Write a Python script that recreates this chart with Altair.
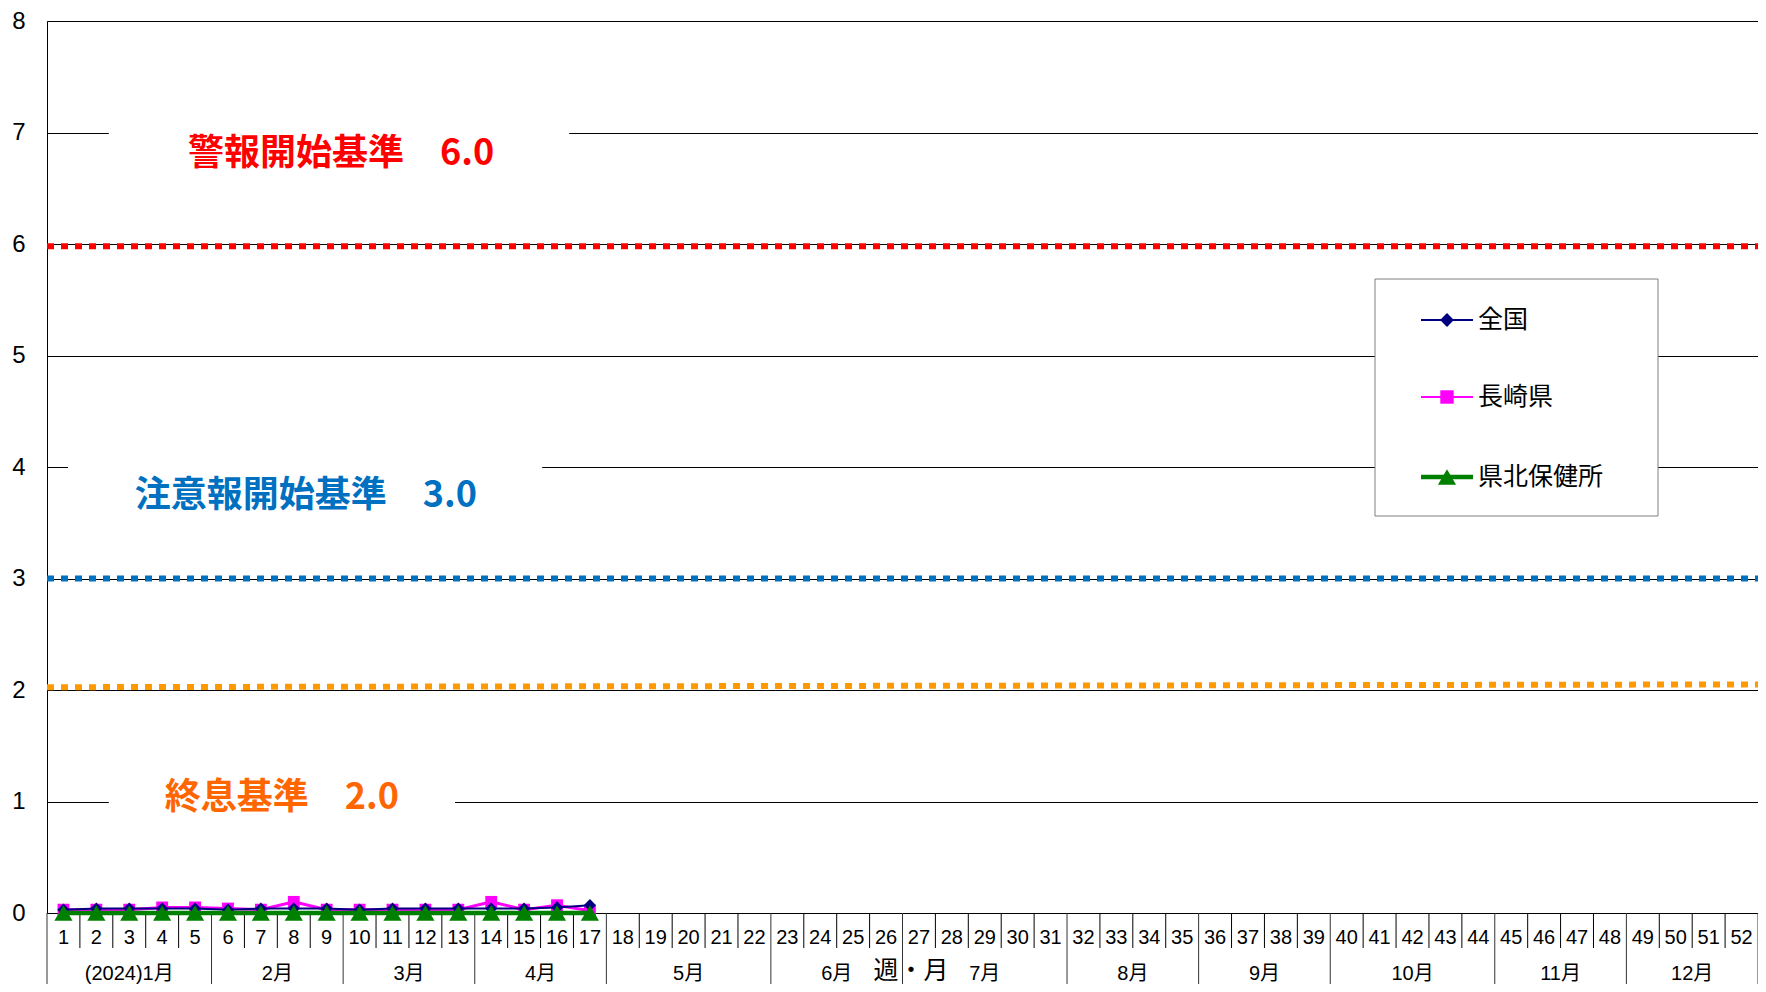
import altair as alt
import pandas as pd

# ---------------- data ----------------
weeks = list(range(1, 53))
data_weeks = list(range(1, 18))
zenkoku = [0.03, 0.04, 0.04, 0.04, 0.04, 0.03, 0.04, 0.04, 0.04, 0.03, 0.04, 0.04, 0.04, 0.04, 0.04, 0.05, 0.07]
nagasaki = [0.03, 0.03, 0.03, 0.05, 0.05, 0.04, 0.03, 0.10, 0.03, 0.03, 0.03, 0.03, 0.03, 0.10, 0.03, 0.07, 0.02]
kenhoku = [0, 0, 0, 0, 0, 0, 0, 0, 0, 0, 0, 0, 0, 0, 0, 0, 0]

series_names = ["全国", "長崎県", "県北保健所"]
series_values = [zenkoku, nagasaki, kenhoku]
series_colors = ["#000080", "#FF00FF", "#008000"]
series_shapes = ["diamond", "square", "triangle-up"]

month_labels = ["(2024)1月", "2月", "3月", "4月", "5月", "6月", "7月", "8月", "9月", "10月", "11月", "12月"]
month_first = [1, 6, 10, 14, 18, 23, 27, 32, 36, 40, 45, 49]
month_last = [5, 9, 13, 17, 22, 26, 31, 35, 39, 44, 48, 52]

thr_labels = ["警報開始基準　6.0", "注意報開始基準　3.0", "終息基準　2.0"]
thr_start = [5.98, 3.0, 2.025]
thr_end = [5.98, 3.0, 2.05]
thr_line_colors = ["#FF0000", "#0070C0", "#FF9900"]
thr_text_colors = ["#FF0000", "#0070C0", "#FF6600"]
# label placement (week units / value units)
thr_text_x = [9.44, 8.37, 7.64]
thr_text_y = [6.81, 3.74, 1.03]
thr_box_x0 = [2.38, 1.14, 2.38]
thr_box_x1 = [16.37, 15.55, 12.9]
thr_box_y0 = [6.55, 3.5, 0.8]
thr_box_y1 = [7.15, 4.1, 1.3]

# ---------------- layout ----------------
W, H = 1711, 892
SANS = "Liberation Sans, Arial, Noto Sans CJK JP, sans-serif"
JP = "Noto Sans CJK JP, sans-serif"

xs = alt.Scale(domain=[0.5, 52.5], nice=False, zero=False)
ys = alt.Scale(domain=[0, 8], nice=False, zero=False)

layers = []

# axes carrier (invisible)
axis_df = pd.DataFrame({"week": [1, 52], "v": [0, 8]})
layers.append(
    alt.Chart(axis_df).mark_point(opacity=0).encode(
        x=alt.X("week:Q", scale=xs, axis=alt.Axis(
            labels=False, ticks=False, grid=False, domainColor="black", title=None)),
        y=alt.Y("v:Q", scale=ys, axis=alt.Axis(
            values=list(range(9)), format="d", labelFontSize=24, labelFont=SANS,
            labelColor="black", labelPadding=22, ticks=False, grid=True, gridColor="black",
            gridWidth=1, domainColor="black", title=None)),
    )
)

# label boxes (white, break the gridlines)
box_df = pd.DataFrame({"x0": thr_box_x0, "x1": thr_box_x1, "y0": thr_box_y0, "y1": thr_box_y1})
layers.append(
    alt.Chart(box_df).mark_rect(fill="white").encode(
        x=alt.X("x0:Q", scale=xs), x2="x1", y=alt.Y("y0:Q", scale=ys), y2="y1")
)

# threshold lines
thr_df = pd.DataFrame({"x0": [0.5] * 3, "x1": [52.5] * 3, "y0": thr_start, "y1": thr_end,
                       "c": thr_line_colors})
layers.append(
    alt.Chart(thr_df).mark_rule(strokeDash=[7, 7], strokeWidth=6, strokeCap="butt").encode(
        x=alt.X("x0:Q", scale=xs), x2="x1", y=alt.Y("y0:Q", scale=ys), y2="y1",
        color=alt.Color("c:N", scale=None))
)

# threshold labels
lab_df = pd.DataFrame({"x": thr_text_x, "y": thr_text_y, "t": thr_labels, "c": thr_text_colors})
layers.append(
    alt.Chart(lab_df).mark_text(font=JP, fontWeight="bold", fontSize=36, align="center",
                                baseline="middle").encode(
        x=alt.X("x:Q", scale=xs), y=alt.Y("y:Q", scale=ys), text="t:N",
        color=alt.Color("c:N", scale=None))
)

# week separators and month separators below the axis
month_bounds = [m - 0.5 for m in month_first] + [52.5]
week_bounds = [w + 0.5 for w in range(1, 52) if (w + 0.5) not in month_bounds]
layers.append(
    alt.Chart(pd.DataFrame({"b": week_bounds})).mark_rule(color="black", strokeWidth=1).encode(
        x=alt.X("b:Q", scale=xs), y=alt.value(H), y2=alt.value(H + 35))
)
layers.append(
    alt.Chart(pd.DataFrame({"b": month_bounds})).mark_rule(color="#333333", strokeWidth=1).encode(
        x=alt.X("b:Q", scale=xs), y=alt.value(H), y2=alt.value(H + 71))
)

# week labels
wk_df = pd.DataFrame({"w": weeks, "t": [str(w) for w in weeks]})
layers.append(
    alt.Chart(wk_df).mark_text(font=SANS, fontSize=20, color="black", baseline="middle").encode(
        x=alt.X("w:Q", scale=xs), y=alt.value(H + 25), text="t:N")
)

# month labels
mon_df = pd.DataFrame({"m": month_labels,
                       "c": [(a + b) / 2 for a, b in zip(month_first, month_last)]})
layers.append(
    alt.Chart(mon_df).mark_text(font=SANS, fontSize=20, color="black", baseline="middle").encode(
        x=alt.X("c:Q", scale=xs), y=alt.value(H + 61), text="m:N")
)
# axis title
layers.append(
    alt.Chart(pd.DataFrame({"x": [26.76], "t": ["週・月"]})).mark_text(
        font=JP, fontSize=25, color="black", baseline="middle").encode(
        x=alt.X("x:Q", scale=xs), y=alt.value(H + 58), text="t:N")
)

# data series
draw_order = [1, 0, 2]
line_widths = [2, 3, 4.5]
marker_sizes = [150, 140, 330]
for i in draw_order:
    df = pd.DataFrame({"week": data_weeks, "value": series_values[i]})
    base = alt.Chart(df).encode(x=alt.X("week:Q", scale=xs), y=alt.Y("value:Q", scale=ys))
    layers.append(base.mark_line(color=series_colors[i], strokeWidth=line_widths[i]))
    layers.append(base.mark_point(shape=series_shapes[i], filled=True, opacity=1,
                                  color=series_colors[i], size=marker_sizes[i]))

# legend (manual)
LX0, LX1, LY0, LY1 = 1328, 1611, 258, 495
layers.append(
    alt.Chart(pd.DataFrame({"a": [0]})).mark_rect(fill="white", stroke="#808080", strokeWidth=1).encode(
        x=alt.value(LX0), x2=alt.value(LX1), y=alt.value(LY0), y2=alt.value(LY1))
)
leg_y = [299, 376, 456]
leg_line_w = [2, 2, 4.5]
leg_marker = [190, 180, 330]
for i in range(3):
    one = alt.Chart(pd.DataFrame({"a": [0]}))
    layers.append(one.mark_rule(color=series_colors[i], strokeWidth=leg_line_w[i]).encode(
        x=alt.value(1374), x2=alt.value(1426), y=alt.value(leg_y[i])))
    layers.append(one.mark_point(shape=series_shapes[i], filled=True, opacity=1,
                                 color=series_colors[i], size=leg_marker[i]).encode(
        x=alt.value(1400), y=alt.value(leg_y[i])))
    layers.append(one.mark_text(font=JP, fontSize=25, color="black", align="left",
                                baseline="middle", text=series_names[i]).encode(
        x=alt.value(1431), y=alt.value(leg_y[i])))

chart = alt.layer(*layers).properties(
    width=W, height=H,
    autosize=alt.AutoSizeParams(type="none"),
    padding={"left": 39, "top": 13, "right": 0, "bottom": 71},
    background="white",
).configure_view(stroke="#808080", strokeWidth=1)

chart.save("out.html", embed_options={"renderer": "svg", "actions": False})
